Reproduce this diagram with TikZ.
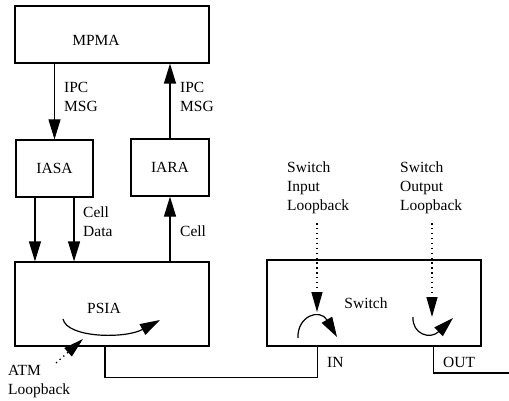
\documentclass[tikz,border=0pt]{standalone}
\usepackage{fontspec}
\setmainfont{Liberation Serif}
\usetikzlibrary{arrows.meta,calc}
\begin{document}
\begin{tikzpicture}[x=1pt,y=-1pt,
  every node/.style={font=\fontsize{15.5}{19}\selectfont},
  box/.style={draw,line width=1.2pt,inner sep=0pt,minimum width=#1},
  lbl/.style={inner sep=0pt,align=left,anchor=west},
  arr/.style={line width=1.2pt,-{Triangle[length=20pt,width=12pt]}},
  dotarr/.style={line width=1.3pt,dash pattern=on 1.3pt off 3.6pt,-{Triangle[length=20pt,width=11pt]}},
  wire/.style={line width=1.2pt}]
\useasboundingbox (0,0) rectangle (509,401);
% boxes
\node[box=194pt,minimum height=57pt] (mpma) at (112,34.5) {};
\node[inner sep=0pt] (mpmalbl) at (96,40) {MPMA};
\node[box=77pt,minimum height=57pt] (iasa) at (54.5,168.5) {\raisebox{-4pt}{IASA}};
\node[box=78pt,minimum height=57pt] (iara) at (170,167.5) {\raisebox{-4pt}{IARA}};
\node[box=194pt,minimum height=84pt] (psia) at (112,304) {};
\node[inner sep=0pt] (psialbl) at (104,308) {PSIA};
\node[box=214pt,minimum height=86pt] (sw) at (374,303) {};
\node[inner sep=0pt] (swlbl) at (366,303) {Switch};
% vertical connectors
\draw[arr] (mpma.south -| iasa.north) -- (iasa.north);
\draw[arr] (iara.north) -- (iara.north |- mpma.south);
\coordinate (d1) at ($(iasa.south west)!0.25!(iasa.south east)$);
\coordinate (d2) at ($(iasa.south west)!0.75!(iasa.south east)$);
\draw[arr] (d1) -- (d1 |- psia.north);
\draw[arr] (d2) -- (d2 |- psia.north);
\draw[arr] (psia.north -| iara.south) -- (iara.south);
% labels
\node[lbl] (ipc1) at (64,97) {IPC\\MSG};
\node[lbl] (ipc2) at (180,97) {IPC\\MSG};
\node[lbl] (celldata) at (83,221.5) {Cell\\Data};
\node[lbl] (cell) at (180,231) {Cell};
\node[lbl] (inlbl) at (287,188) {Switch\\Input\\Loopback};
\node[lbl] (outlbl) at (400,188) {Switch\\Output\\Loopback};
\node[lbl] (atm) at (8,382) {ATM\\Loopback};
% wires between PSIA and Switch
\coordinate (pport) at ($(psia.south west)!0.464!(psia.south east)$);
\coordinate (inport) at ($(sw.south west)!0.238!(sw.south east)$);
\coordinate (outport) at ($(sw.south west)!0.776!(sw.south east)$);
\coordinate (outend) at (509,373);
\draw[wire] (pport) -- ++(0,31) -| (inport);
\draw[wire] (outport) |- (outend);
\node[lbl] (inl) at (327,362) {IN};
\node[lbl] (outl) at (443,362) {OUT};
% loopback indicators
\coordinate (intip) at (317,312);
\coordinate (outtip) at (432,317);
\draw[dotarr,shorten <=9pt] (inlbl.south -| intip) -- (intip);
\draw[dotarr,shorten <=9pt] (outlbl.south -| outtip) -- (outtip);
\coordinate (atmtail) at (56,363);
\coordinate (atmtip) at (83,339);
\draw[dotarr] (atmtail) -- (atmtip);
\draw[arr] (63,319) .. controls (67,338) and (125,339) .. (160,320);
\draw[arr] (298,338) .. controls (297,316) and (320,308) .. (337,337);
\draw[arr] (413,317) .. controls (412,334) and (430,340) .. (453,318);
\end{tikzpicture}
\end{document}
